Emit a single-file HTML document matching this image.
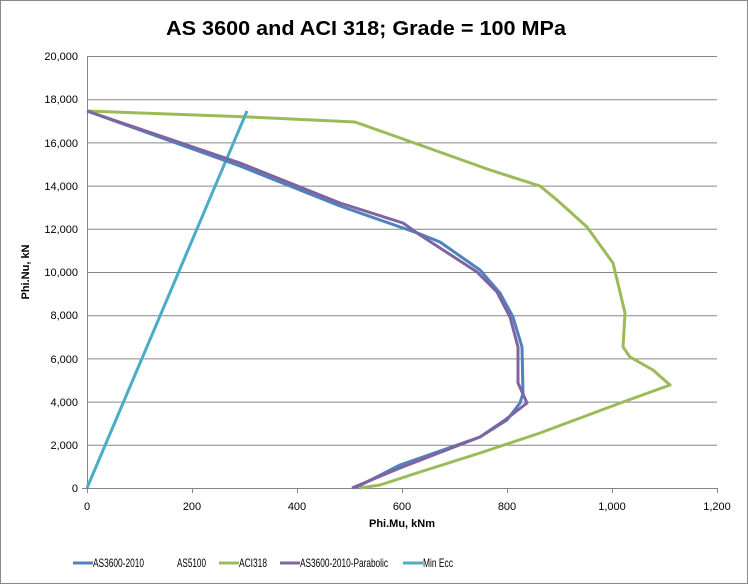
<!DOCTYPE html>
<html><head><meta charset="utf-8"><style>
body{margin:0;background:#fff}
svg{display:block;font-family:"Liberation Sans",Arial,sans-serif}
</style></head><body>
<svg width="748" height="584" viewBox="0 0 748 584">
<rect x="0.5" y="0.5" width="747" height="583" fill="#fff" stroke="#888"/>
<text x="166" y="35" font-size="20" font-weight="bold" textLength="400" lengthAdjust="spacingAndGlyphs">AS 3600 and ACI 318; Grade = 100 MPa</text>
<g stroke="#868686" stroke-width="1">
<line x1="87" y1="56.5" x2="717" y2="56.5"/>
<line x1="87" y1="99.7" x2="717" y2="99.7"/>
<line x1="87" y1="142.9" x2="717" y2="142.9"/>
<line x1="87" y1="186.1" x2="717" y2="186.1"/>
<line x1="87" y1="229.3" x2="717" y2="229.3"/>
<line x1="87" y1="272.5" x2="717" y2="272.5"/>
<line x1="87" y1="315.7" x2="717" y2="315.7"/>
<line x1="87" y1="358.9" x2="717" y2="358.9"/>
<line x1="87" y1="402.1" x2="717" y2="402.1"/>
<line x1="87" y1="445.3" x2="717" y2="445.3"/>
<line x1="82" y1="488.5" x2="717" y2="488.5"/>
<line x1="87.5" y1="56" x2="87.5" y2="493"/>
<line x1="192.5" y1="488" x2="192.5" y2="493"/>
<line x1="297.5" y1="488" x2="297.5" y2="493"/>
<line x1="402.5" y1="488" x2="402.5" y2="493"/>
<line x1="507.5" y1="488" x2="507.5" y2="493"/>
<line x1="612.5" y1="488" x2="612.5" y2="493"/>
<line x1="717.5" y1="488" x2="717.5" y2="493"/>
</g>
<g font-size="11" text-anchor="end" fill="#000">
<text x="78" y="60">20,000</text><text x="78" y="103">18,000</text><text x="78" y="147">16,000</text>
<text x="78" y="190">14,000</text><text x="78" y="233">12,000</text><text x="78" y="276">10,000</text>
<text x="78" y="319">8,000</text><text x="78" y="363">6,000</text><text x="78" y="406">4,000</text>
<text x="78" y="449">2,000</text><text x="78" y="492">0</text>
</g>
<g font-size="11" text-anchor="middle">
<text x="87" y="510">0</text><text x="192" y="510">200</text><text x="297" y="510">400</text>
<text x="402" y="510">600</text><text x="507" y="510">800</text><text x="612" y="510">1,000</text><text x="717" y="510">1,200</text>
</g>
<text x="402" y="527" text-anchor="middle" font-size="11" font-weight="bold">Phi.Mu, kNm</text>
<text transform="translate(29,272) rotate(-90)" text-anchor="middle" font-size="11" font-weight="bold">Phi.Nu, kN</text>
<g fill="none" stroke-width="3" stroke-linejoin="round">
<polyline stroke="#9BBB59" points="87,111 250,117 355,122 420,145 490,170 540,186 557,200 587,227 613,263 625,313 623,347 630,357 653,370 670,385 623,402 540,433 480,453 420,472 380,485 360,488"/>
<polyline stroke="#4BACC6" points="87,488 247,111"/>
<polyline stroke="#4F81BD" points="87,111 240,166 340,206 403,228 420,234 440,242 480,270 500,293 513,317 522,347 523,393 520,403 507,420 480,437 400,465 355,488"/>
<polyline stroke="#8064A2" points="87,111 240,163 340,203 403,223 420,235 477,272 497,292 510,317 518,347 518,383 527,403 505,420 480,437 400,468 352,488"/>
</g>
<g font-size="12">
<line x1="73" y1="563" x2="93" y2="563" stroke="#4F81BD" stroke-width="3"/><text x="93" y="567" textLength="51" lengthAdjust="spacingAndGlyphs">AS3600-2010</text>
<text x="177" y="567" textLength="29" lengthAdjust="spacingAndGlyphs">AS5100</text>
<line x1="219" y1="563" x2="239" y2="563" stroke="#9BBB59" stroke-width="3"/><text x="239" y="567" textLength="28" lengthAdjust="spacingAndGlyphs">ACI318</text>
<line x1="280" y1="563" x2="300" y2="563" stroke="#8064A2" stroke-width="3"/><text x="300" y="567" textLength="88" lengthAdjust="spacingAndGlyphs">AS3600-2010-Parabolic</text>
<line x1="403" y1="563" x2="423" y2="563" stroke="#4BACC6" stroke-width="3"/><text x="423" y="567" textLength="30" lengthAdjust="spacingAndGlyphs">Min Ecc</text>
</g>
</svg>
</body></html>
